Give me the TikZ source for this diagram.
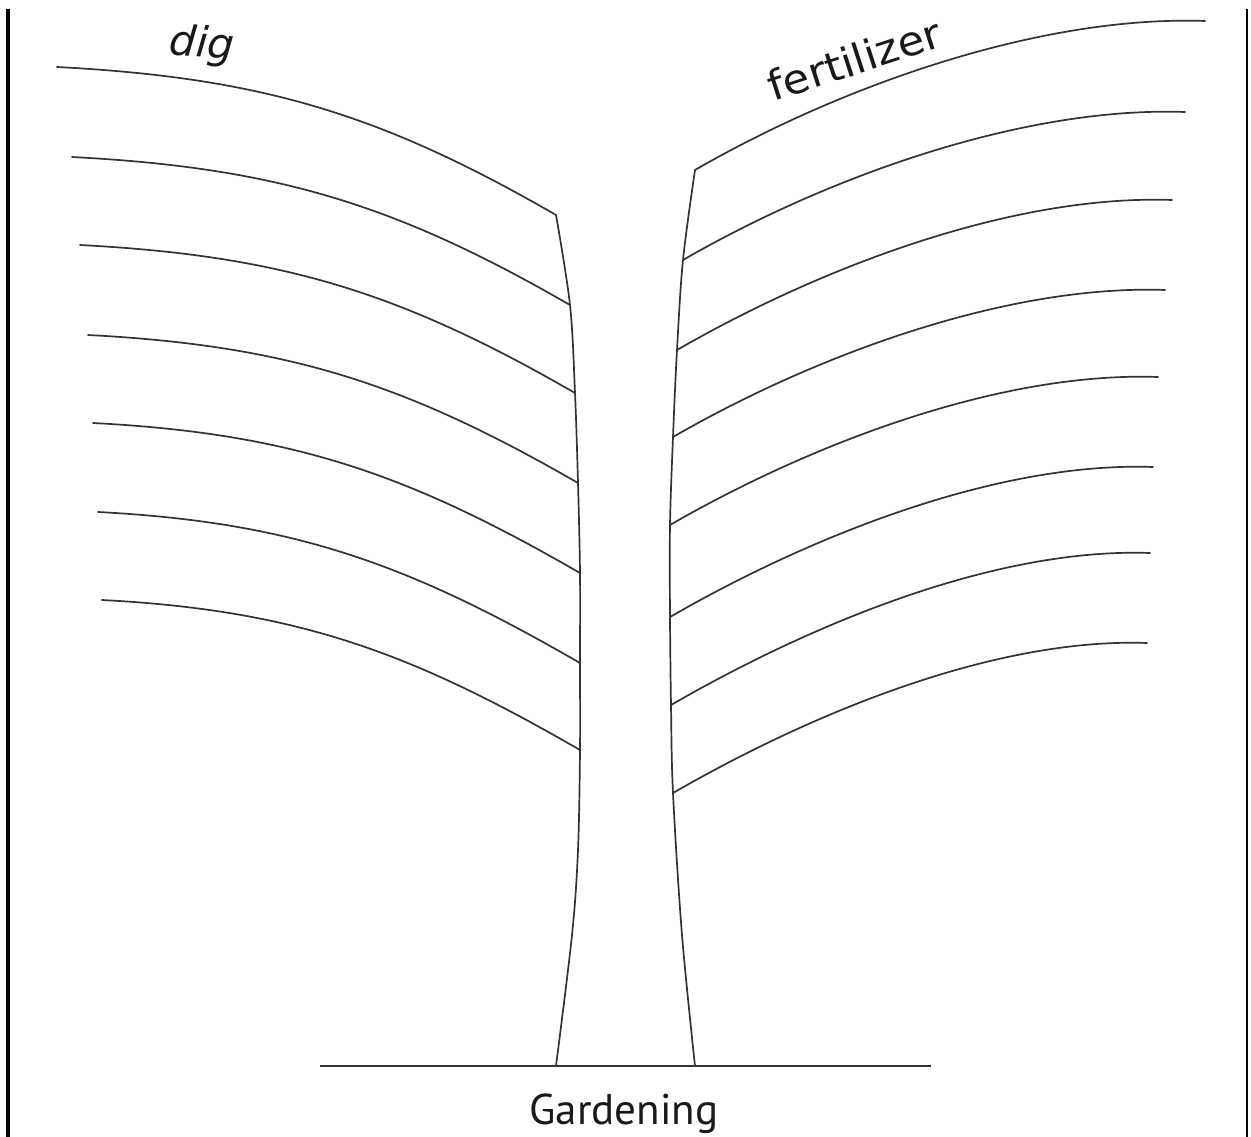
\documentclass[tikz,border=0pt]{standalone}
\usepackage{fontspec}
\setmainfont{PT Sans}
\newfontfamily\handfont{DejaVu Sans}
\begin{document}
\begin{tikzpicture}[x=1pt,y=-1pt,
  branch/.style={draw=black!80,line width=1.7pt,line cap=round},
  trunkline/.style={draw=black!80,line width=1.7pt,line cap=round},
  lbranch/.style={branch,out=-3,in=150},
  rbranch/.style={branch,out=30,in=178,looseness=0.8},
  framebar/.style={draw=black}]
\useasboundingbox (0,0) rectangle (1251,1137);
% frame bars
\coordinate (FLt) at (8,9);   \coordinate (FLb) at (8,1137);
\coordinate (FRt) at (1247,9); \coordinate (FRb) at (1247,1137);
\draw[framebar,line width=4pt] (FLt) -- (FLb);
\draw[framebar,line width=2.4pt] (FRt) -- (FRb);
% left junctions on trunk
\coordinate (L1) at (556,215);
\coordinate (L2) at (570,305);
\coordinate (L3) at (575,393);
\coordinate (L4) at (578,483);
\coordinate (L5) at (580,573);
\coordinate (L6) at (580,663);
\coordinate (L7) at (580,750);
\coordinate (L8) at (578,850);
\coordinate (L9) at (572,935);
\coordinate (LB) at (556,1066);
% left free ends
\coordinate (l1) at (57,67);
\coordinate (l2) at (72,157);
\coordinate (l3) at (80,245);
\coordinate (l4) at (88,335);
\coordinate (l5) at (93,423);
\coordinate (l6) at (98,512);
\coordinate (l7) at (102,600);
% right junctions on trunk
\coordinate (R1) at (695,170);
\coordinate (R2) at (683,260);
\coordinate (R3) at (677,350);
\coordinate (R4) at (673,437);
\coordinate (R5) at (670,525);
\coordinate (R6) at (670,617);
\coordinate (R7) at (671,705);
\coordinate (R8) at (673,793);
\coordinate (R9) at (682,935);
\coordinate (RB) at (695,1066);
% right free ends
\coordinate (r1) at (1205,21);
\coordinate (r2) at (1185,112);
\coordinate (r3) at (1172,200);
\coordinate (r4) at (1165,290);
\coordinate (r5) at (1158,377);
\coordinate (r6) at (1153,467);
\coordinate (r7) at (1150,553);
\coordinate (r8) at (1147,643);
% ground
\coordinate (G1) at (320,1066);
\coordinate (G2) at (931,1066);
% trunk
\draw[trunkline] plot[smooth,tension=0.55] coordinates {(L1) (L2) (L3) (L4) (L5) (L6) (L7) (L8) (L9) (LB)};
\draw[trunkline] plot[smooth,tension=0.55] coordinates {(R1) (R2) (R3) (R4) (R5) (R6) (R7) (R8) (R9) (RB)};
% branches
\foreach \i in {1,...,7} { \draw[lbranch] (l\i) to (L\i); }
\foreach \i in {1,...,8} { \draw[rbranch] (R\i) to (r\i); }
% ground line
\draw[branch,line cap=butt] (G1) -- (G2);
% labels
\node[inner sep=0pt,anchor=base,font=\fontsize{43}{50}\selectfont,text=black!90] (gard) at (624,1124) {Gardening};
\node[inner sep=0pt,anchor=base,rotate=-5,font=\handfont\fontsize{42}{46}\selectfont\itshape,text=black!90] (dig) at (201,57) {dig};
\node[inner sep=0pt,anchor=base,rotate=18,xscale=1.06,font=\handfont\fontsize{41}{46}\selectfont,text=black!90] (fert) at (859,74) {fertilizer};
\end{tikzpicture}
\end{document}
